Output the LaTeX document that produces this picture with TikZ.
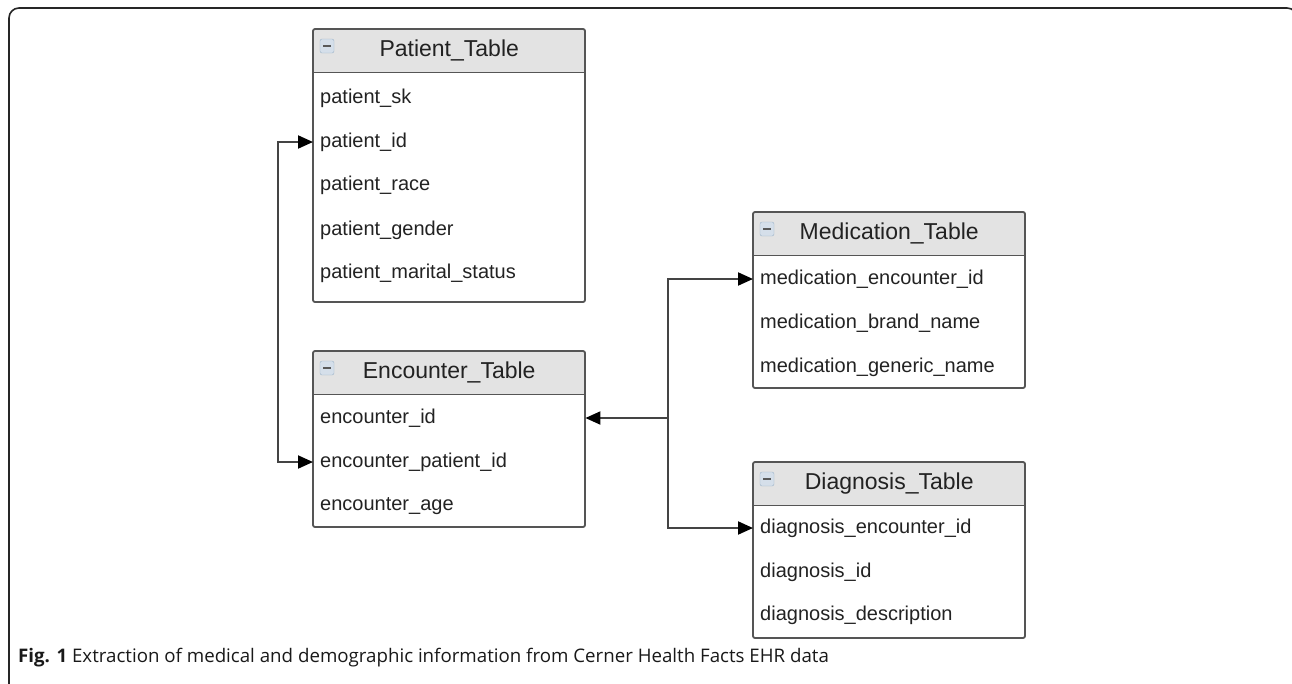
\documentclass[tikz,border=0pt]{standalone}
\usepackage{fontspec}
\setmainfont{Liberation Sans}
\newfontfamily\capfont{Open Sans}
\usetikzlibrary{arrows.meta}

\definecolor{boxgray}{HTML}{555555}
\definecolor{headgray}{HTML}{E3E3E3}
\definecolor{linegray}{HTML}{444444}
\definecolor{textgray}{HTML}{222222}
\definecolor{iconblue}{HTML}{9DB3C8}
\definecolor{iconfill}{HTML}{D5DFEA}

\tikzset{
  header/.style={anchor=north west, fill=headgray, rounded corners=2pt,
    minimum width=272pt, minimum height=43pt, inner sep=0pt,
    text=textgray, font=\fontsize{23}{26}\selectfont},
  row/.style={anchor=west, inner xsep=7pt, inner ysep=0pt, text width=258pt,
    align=left, text=textgray, font=\fontsize{20}{23}\selectfont},
  tablebox/.style={draw=boxgray, line width=1.8pt, rounded corners=2pt},
  headline/.style={draw=boxgray, line width=1.8pt},
  icon/.style={draw=iconblue, fill=iconfill, rounded corners=2pt,
    minimum size=14pt, inner sep=0pt,
    path picture={\draw[black!65, line width=1.5pt]
      ([xshift=-4pt]path picture bounding box.center) --
      ([xshift=4pt]path picture bounding box.center);}},
  link/.style={draw=linegray, line width=2pt,
    >={Triangle[length=15pt,width=13pt,color=black]}, ->}
}

\begin{document}
\begin{tikzpicture}[x=1pt, y=-1pt]
\useasboundingbox (0,0) rectangle (1292,683);
\clip (0,0) rectangle (1292,683);

% frame of the figure
\draw[black!85, line width=1.6pt, rounded corners=10pt]
  (9,700) -- (9,8) -- (1297,8) -- (1297,700);

% Patient_Table
\node[header] (pat) at (313,29) {Patient\_Table};
\node[icon] (pat-icon) at (327,46) {};
\node[row] (pat-sk) at (313,98) {patient\_sk};
\node[row] (pat-id) at (313,142) {patient\_id};
\node[row] (pat-race) at (313,185) {patient\_race};
\node[row] (pat-gender) at (313,230) {patient\_gender};
\node[row] (pat-marital) at (313,273) {patient\_marital\_status};
\draw[tablebox] (313,29) rectangle (585,302);
\draw[headline] (pat.south west) -- (pat.south east);

% Encounter_Table
\node[header] (enc) at (313,351) {Encounter\_Table};
\node[icon] (enc-icon) at (327,368) {};
\node[row] (enc-id) at (313,418) {encounter\_id};
\node[row] (enc-pid) at (313,462) {encounter\_patient\_id};
\node[row] (enc-age) at (313,506) {encounter\_age};
\draw[tablebox] (313,351) rectangle (585,527);
\draw[headline] (enc.south west) -- (enc.south east);

% Medication_Table
\node[header] (med) at (753,212) {Medication\_Table};
\node[icon] (med-icon) at (767,229) {};
\node[row] (med-enc) at (753,279) {medication\_encounter\_id};
\node[row] (med-brand) at (753,323) {medication\_brand\_name};
\node[row] (med-generic) at (753,367) {medication\_generic\_name};
\draw[tablebox] (753,212) rectangle (1025,388);
\draw[headline] (med.south west) -- (med.south east);

% Diagnosis_Table
\node[header] (dia) at (753,462) {Diagnosis\_Table};
\node[icon] (dia-icon) at (767,479) {};
\node[row] (dia-enc) at (753,528) {diagnosis\_encounter\_id};
\node[row] (dia-id) at (753,572) {diagnosis\_id};
\node[row] (dia-desc) at (753,615) {diagnosis\_description};
\draw[tablebox] (753,462) rectangle (1025,638);
\draw[headline] (dia.south west) -- (dia.south east);

% links between the tables
\draw[link, <->] (enc-pid.west) -- ++(-35,0) |- (pat-id.west);
\coordinate (junc) at ([xshift=83pt]enc-id.east);
\draw[link] (junc) -- (enc-id.east);
\draw[link] (junc) |- (med-enc.west);
\draw[link] (junc) |- (dia-enc.west);

% caption
\node[anchor=base west, inner sep=0pt, text=black!90,
  font=\capfont\fontsize{18.7}{21}\selectfont] (cap) at (18,662)
  {\textbf{Fig. 1} Extraction of medical and demographic information from Cerner Health Facts EHR data};

\end{tikzpicture}
\end{document}
